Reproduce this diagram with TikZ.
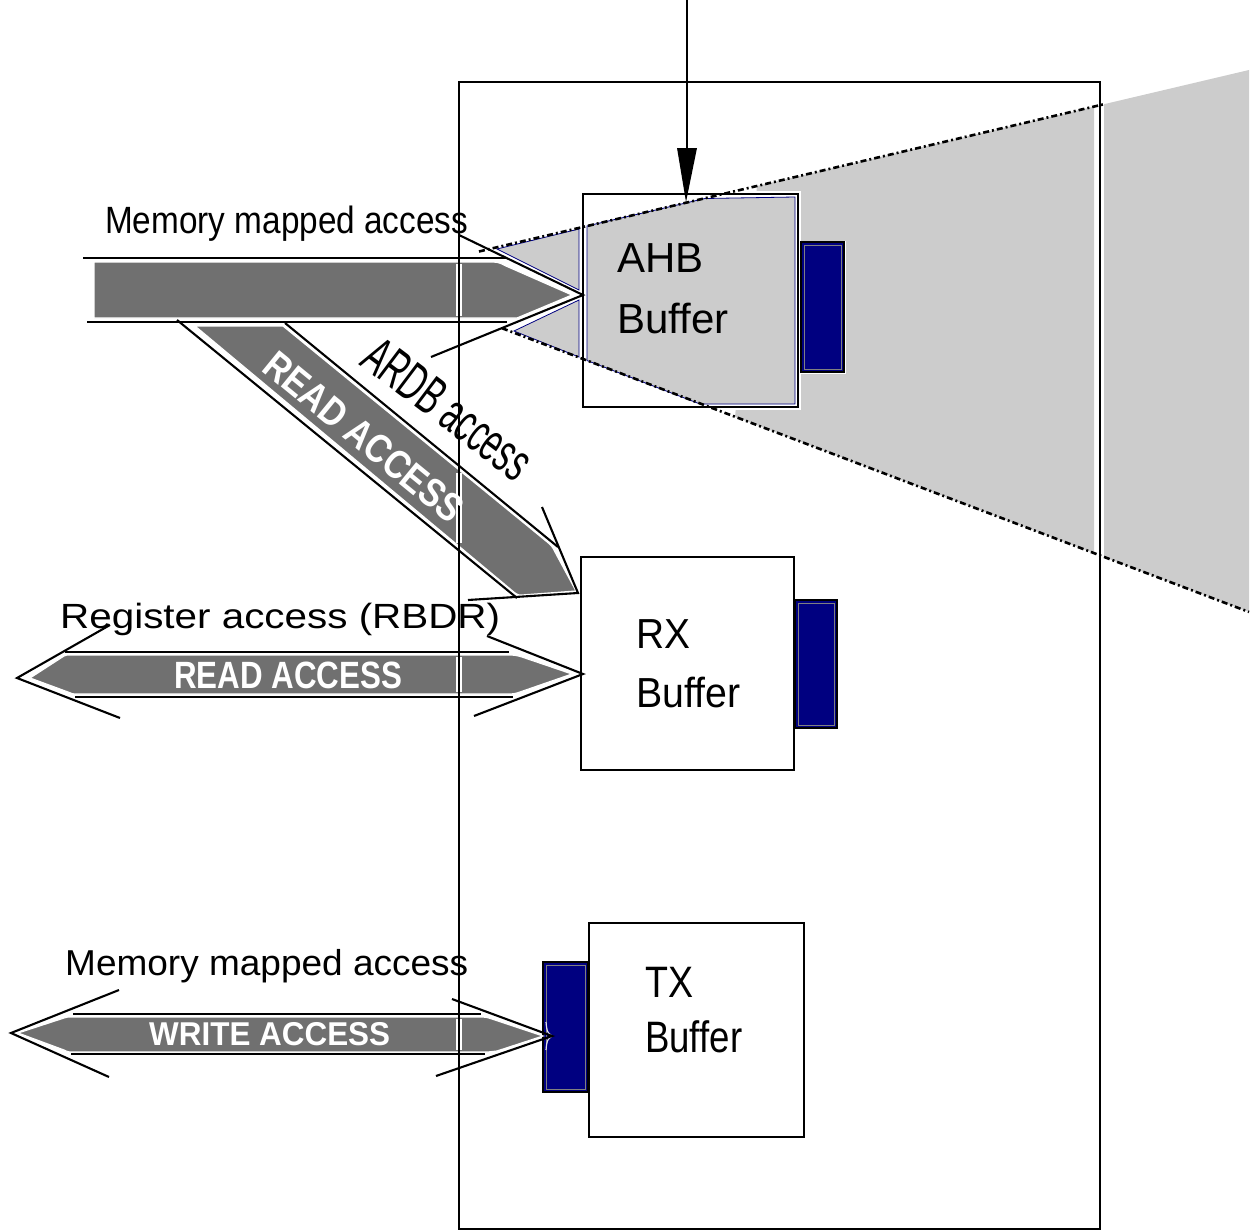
\documentclass[tikz,border=0pt]{standalone}
\usepackage{fontspec}
\setmainfont{Liberation Sans}
\usepackage{graphicx}
\definecolor{cone}{HTML}{CCCCCC}
\definecolor{arr}{HTML}{707070}
\definecolor{blk}{HTML}{000080}
\tikzset{
  blkline/.style={line width=2.1pt, black},
  framel/.style={line width=2.3pt, black},
  arrfill/.style={fill=arr, draw=white, line width=1.2pt},
  conefill/.style={fill=cone, draw=blk, line width=0.8pt},
  dashdot/.style={line width=2.6pt, black, dash pattern=on 6pt off 3pt on 2pt off 3pt},
  bufbox/.style={draw=black, line width=2.3pt, fill=white},
  navyblk/.style={draw=black, line width=2.3pt, fill=blk},
  lbl/.style={anchor=base west, inner sep=0pt},
  wlbl/.style={anchor=base west, inner sep=0pt, text=white, font=\bfseries},
}
\newcommand{\fitw}[2]{\resizebox{#1}{\height}{#2}}
\begin{document}
\begin{tikzpicture}[x=1pt,y=-1pt]
\useasboundingbox (0,0) rectangle (1251,1231);

% light gray cone
\fill[cone] (757,186) -- (1094,106.6) -- (1094,553.2) -- (735,416.8) -- cycle;
\fill[cone] (1104,104.2) -- (1249,70) -- (1249,612) -- (1104,557) -- cycle;

% AHB buffer box
\draw[white, line width=6pt] (583,194) rectangle (798,407);
\draw[bufbox] (583,194) rectangle (798,407);
\filldraw[conefill] (587,226) -- (705,198.5) -- (795,197) -- (795,404) -- (700,404) -- (587,360.5) -- cycle;
\filldraw[conefill] (497,249) -- (579,229) -- (579,290) -- cycle;
\filldraw[conefill] (514,331) -- (579,300) -- (579,357) -- cycle;
\draw[white, line width=3pt] (801,242) rectangle (844,372);
\draw[navyblk] (801,242) rectangle (844,372);
\draw[gray, line width=1pt] (804,245) rectangle (841,369);

% RX buffer box
\draw[bufbox] (581,557) rectangle (794,770);
\draw[navyblk] (795,600) rectangle (837,728);
\draw[gray, line width=1pt] (798,603) rectangle (834,725);

% TX buffer box
\draw[bufbox] (589,923) rectangle (804,1137);
\draw[navyblk] (543,962) rectangle (588,1092);
\draw[gray, line width=1pt] (546,965) rectangle (585,1089);

% dash-dot edges of the cone
\draw[dashdot] (479,251.5) -- (1104,104.2);
\draw[dashdot] (502,328.2) -- (1249,612);

% memory mapped access arrow (top)
\filldraw[arrfill] (94,262) -- (488,262) .. controls (498,262) .. (506,266) -- (572,295) -- (517,318) .. controls (510,318) .. (500,318) -- (94,318) -- cycle;
% diagonal read access arrow
\filldraw[arrfill] (195,326) -- (283,326) -- (546,541) .. controls (552,546) .. (555,552) -- (576,591) -- (522,595) .. controls (518,595) .. (515,593) -- cycle;
% RX read access arrow
\filldraw[arrfill] (30,678) -- (64,656) .. controls (66,655) .. (72,655) -- (505,655) .. controls (515,655) .. (522,657) -- (572,674) -- (520,692) .. controls (514,694) .. (505,694) -- (80,694) .. controls (72,694) .. (68,692) -- cycle;
% TX write access arrow
\filldraw[arrfill] (18,1033) -- (64,1018) .. controls (67,1017) .. (72,1017) -- (478,1017) .. controls (486,1017) .. (492,1019) -- (543,1036) -- (497,1051) .. controls (493,1052) .. (488,1052) -- (74,1052) .. controls (68,1052) .. (64,1050) -- cycle;
\draw[white!80!gray, line width=1.2pt] (546,1022) .. controls (547,1032) .. (552,1036) .. controls (547,1040) .. (546,1050);

% white gaps where the frame crosses the arrows
\draw[white, line width=6pt] (459,264) -- (459,316);
\draw[white, line width=6pt] (459,473) -- (459,543);
\draw[white, line width=6pt] (459,657) -- (459,692);
\draw[white, line width=6pt] (459,1019) -- (459,1050);

% outer frame
\draw[framel] (459,82) rectangle (1100,1229);

% arrow outlines
\draw[blkline] (83,258) -- (507,258);
\draw[blkline] (87,322) -- (507,322);
\draw[blkline] (459,235) -- (583,295) -- (431,357);
\draw[blkline] (177,320) -- (517,598);
\draw[blkline] (285,323) -- (558,547);
\draw[blkline] (542,507) -- (578,593) -- (468,600);
\draw[blkline] (65,652) -- (509,652);
\draw[blkline] (75,697) -- (513,697);
\draw[blkline] (110,625) -- (17,678) -- (120,718);
\draw[blkline] (487,636) -- (583,674) -- (474,716);
\draw[blkline] (73,1014) -- (481,1014);
\draw[blkline] (71,1054) -- (485,1054);
\draw[blkline] (119,990) -- (11,1033) -- (109,1077);
\draw[blkline] (452,999) -- (552,1036) -- (436,1076);

% incoming arrow at the top
\draw[blkline] (687,0) -- (687,150);
\fill[black] (677,148) -- (697,148) -- (686,202) -- cycle;

% labels
\node[lbl, font=\fontsize{38}{40}\selectfont] (memtop) at (105,233) {\fitw{363pt}{Memory mapped access}};
\node[lbl, font=\fontsize{36}{40}\selectfont] (membot) at (65,975) {\fitw{403pt}{Memory mapped access}};
\node[lbl, font=\fontsize{35}{40}\selectfont] (reg) at (60,628) {\fitw{440pt}{Register access (RBDR)}};
\node[lbl, rotate=-37, font=\fontsize{54}{58}\selectfont] (ardb) at (358,364) {\fitw{197pt}{ARDB access}};

\node[wlbl, font=\bfseries\fontsize{38}{40}\selectfont] (rdh) at (174,688) {\fitw{228pt}{READ ACCESS}};
\node[wlbl, font=\bfseries\fontsize{33}{36}\selectfont] (wrh) at (149,1045) {\fitw{241pt}{WRITE ACCESS}};
\node[inner sep=0pt, text=white, rotate=-39.3, font=\bfseries\fontsize{40}{44}\selectfont] (rdd) at (364,437) {\fitw{245pt}{READ ACCESS}};

\node[lbl, font=\fontsize{42}{50}\selectfont] (ahb1) at (617,272) {AHB};
\node[lbl, font=\fontsize{42}{50}\selectfont] (ahb2) at (617,333) {Buffer};
\node[lbl, font=\fontsize{42}{50}\selectfont] (rx1) at (636,648) {\fitw{54pt}{RX}};
\node[lbl, font=\fontsize{42}{50}\selectfont] (rx2) at (636,707) {\fitw{104pt}{Buffer}};
\node[lbl, font=\fontsize{44}{50}\selectfont] (tx1) at (645,997) {\fitw{48pt}{TX}};
\node[lbl, font=\fontsize{44}{50}\selectfont] (tx2) at (645,1052) {\fitw{97pt}{Buffer}};
\end{tikzpicture}
\end{document}
